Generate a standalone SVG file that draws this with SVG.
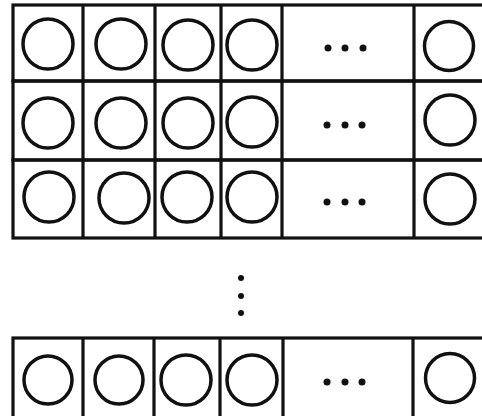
<svg xmlns="http://www.w3.org/2000/svg" width="482" height="416" viewBox="0 0 482 416">
<style>
.grid{fill:none;stroke:#111;stroke-width:3.2}
.c{fill:none;stroke:#111;stroke-width:3.5}
.d{fill:#111}
</style>
<rect width="482" height="416" fill="#fff"/>
<g id="row1">
<rect class="grid" x="13" y="5" width="472" height="76"/>
<circle class="c" cx="48" cy="44" r="25"/><circle class="c" cx="121" cy="44" r="25"/><circle class="c" cx="188" cy="45" r="25"/><circle class="c" cx="252" cy="45" r="25"/>
<circle class="d" cx="328" cy="48" r="3.5"/><circle class="d" cx="345" cy="48" r="3.5"/><circle class="d" cx="363" cy="48" r="3.5"/>
<circle class="c" cx="449" cy="46" r="24.5"/>
</g>
<g id="row2">
<rect class="grid" x="13" y="81" width="472" height="79"/>
<circle class="c" cx="48" cy="123" r="25"/><circle class="c" cx="121" cy="123" r="25"/><circle class="c" cx="188" cy="123" r="25"/><circle class="c" cx="252" cy="122" r="25"/>
<circle class="d" cx="327" cy="125" r="3.5"/><circle class="d" cx="345" cy="125" r="3.5"/><circle class="d" cx="362" cy="125" r="3.5"/>
<circle class="c" cx="450" cy="120" r="25"/>
</g>
<g id="row3">
<rect class="grid" x="13" y="160" width="472" height="78"/>
<circle class="c" cx="49" cy="197" r="25"/><circle class="c" cx="124" cy="198" r="25"/><circle class="c" cx="187" cy="197" r="25"/><circle class="c" cx="252" cy="197" r="25"/>
<circle class="d" cx="327" cy="202" r="3.5"/><circle class="d" cx="345" cy="202" r="3.5"/><circle class="d" cx="362" cy="202" r="3.5"/>
<circle class="c" cx="450" cy="199" r="25"/>
</g>
<g id="columns">
<path class="grid" d="M83 5V238M155 5V238M221 5V238M282 5V238M414 5V238"/>
</g>
<g id="vdots">
<circle class="d" cx="241" cy="278" r="3"/><circle class="d" cx="241" cy="296" r="3"/><circle class="d" cx="241" cy="313" r="3"/>
</g>
<g id="rowN">
<rect class="grid" x="13" y="338" width="472" height="80"/>
<path class="grid" d="M83 338V418M154 338V418M220 338V418M283 338V418M413 338V418"/>
<circle class="c" cx="48" cy="380" r="24"/><circle class="c" cx="119" cy="380" r="24"/><circle class="c" cx="186" cy="380" r="25"/><circle class="c" cx="252" cy="380" r="25"/>
<circle class="d" cx="327" cy="382" r="3.5"/><circle class="d" cx="345" cy="382" r="3.5"/><circle class="d" cx="362" cy="382" r="3.5"/>
<circle class="c" cx="450" cy="378" r="24.5"/>
</g>
</svg>
